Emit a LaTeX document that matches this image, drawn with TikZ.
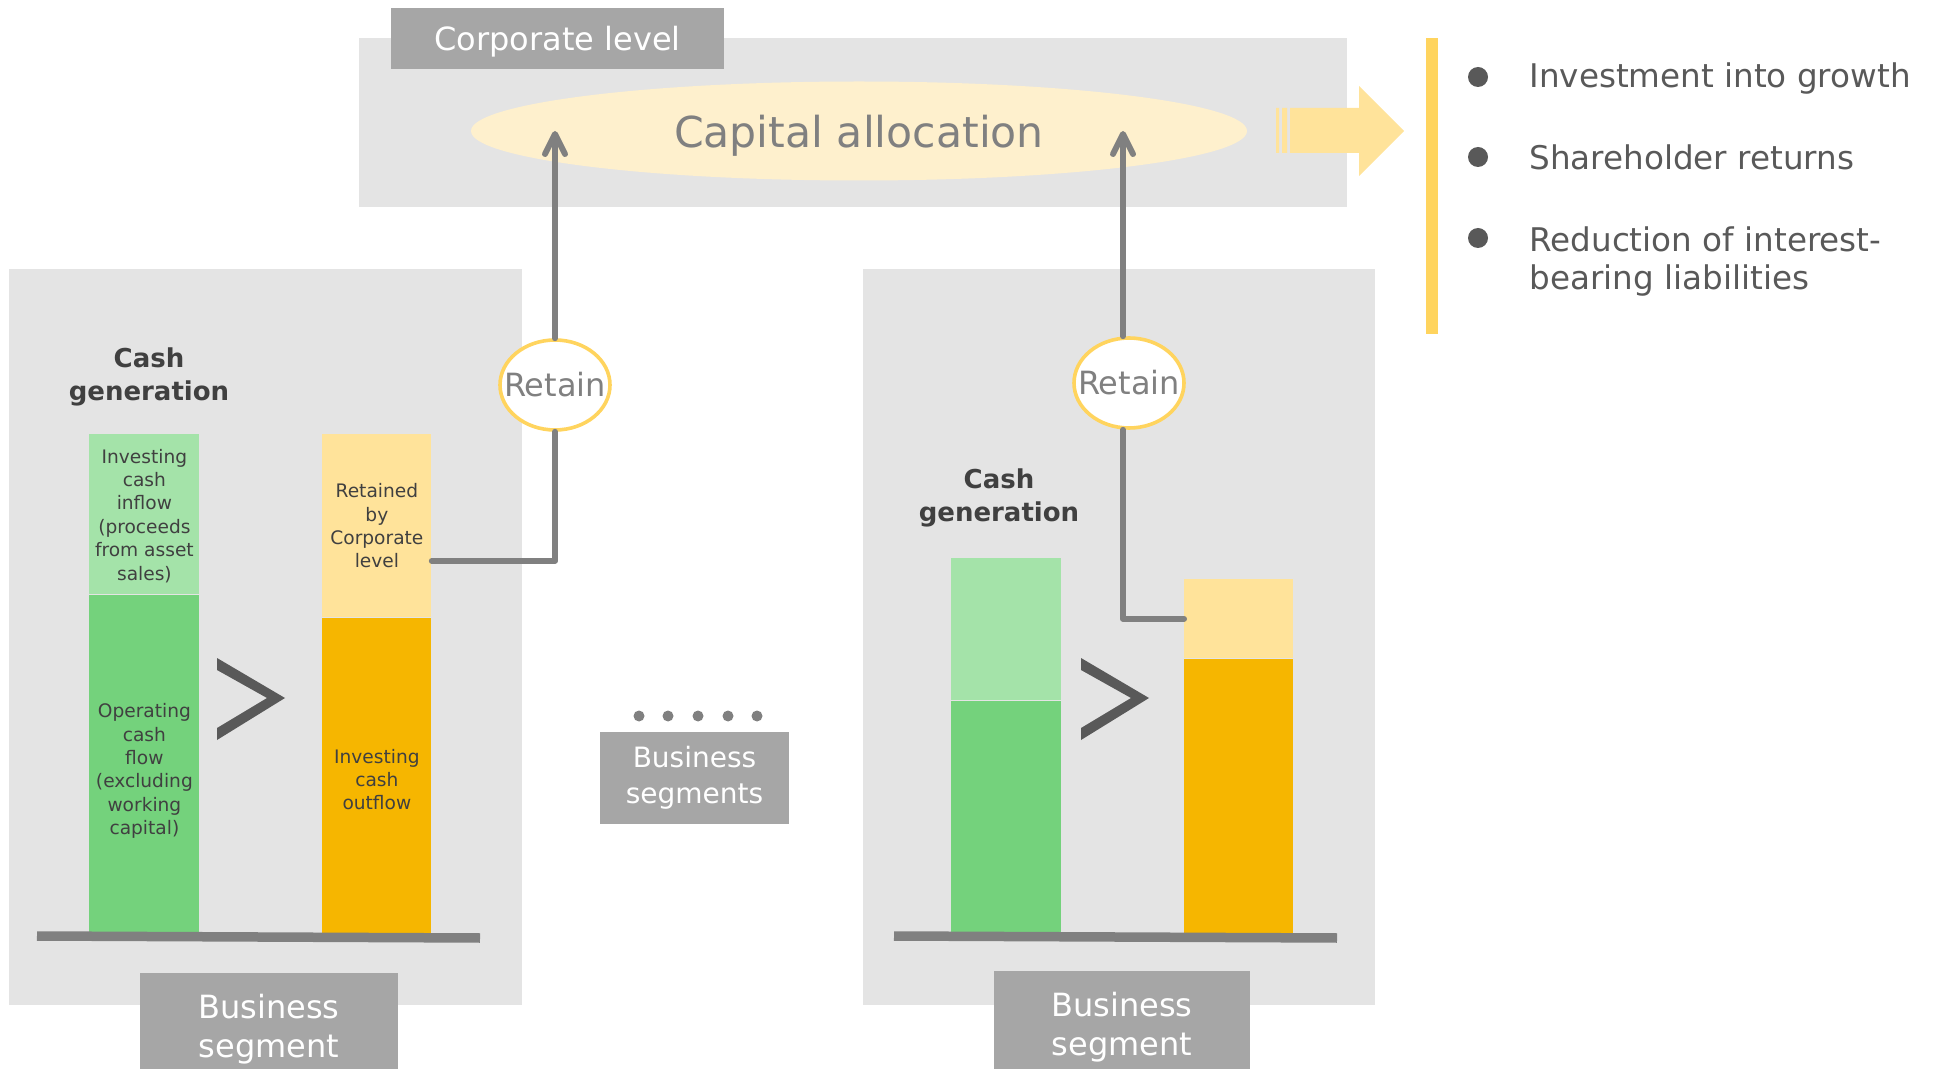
\documentclass[tikz,border=0pt]{standalone}
\usepackage{fontspec}
\setmainfont{DejaVu Sans}
\usetikzlibrary{shapes.geometric,arrows.meta,positioning}
\definecolor{panel}{HTML}{E4E4E4}
\definecolor{tagfill}{HTML}{A6A6A6}
\definecolor{lgreen}{HTML}{A4E3A9}
\definecolor{dgreen}{HTML}{74D27C}
\definecolor{lorange}{HTML}{FFE39A}
\definecolor{dorange}{HTML}{F6B600}
\definecolor{cream}{HTML}{FEF0CD}
\definecolor{goldline}{HTML}{FFD45E}
\definecolor{txtdark}{HTML}{404040}
\definecolor{midgray}{HTML}{595959}
\definecolor{linegray}{HTML}{808080}
\begin{document}
\begin{tikzpicture}[x=0.5pt, y=-0.5pt, line join=round, line cap=round,
  barbox/.style={inner sep=0pt, minimum width=55pt, text=txtdark, align=center, font=\fontsize{9.3}{11.7}\selectfont},
  tagbox/.style={fill=tagfill, text=white, inner sep=0pt, align=center},
  keepnode/.style={ellipse, draw=goldline, line width=1.8pt, fill=white, inner sep=0pt, minimum width=55pt, minimum height=45pt, text=linegray, font=\fontsize{16}{19}\selectfont},
  linkline/.style={draw=linegray, line width=3pt},
  genlabel/.style={font=\fontsize{13}{16.5}\selectfont\bfseries, text=txtdark, align=center},
  bullettext/.style={inner sep=0pt, text=midgray, font=\fontsize{16.3}{19}\selectfont}]
 \useasboundingbox (0,0) rectangle (1934,1069);
 \fill[panel] (359,38) rectangle (1347,207);
 \fill[panel] (9,269) rectangle (522,1005);
 \fill[panel] (863,269) rectangle (1375,1005);
 \node[tagbox, minimum width=166.5pt, minimum height=30.5pt, text depth=0pt, font=\fontsize{16}{19}\selectfont] (corp) at (557.5,38.5) {Corporate level};
 \node[ellipse, fill=cream, inner sep=0pt, minimum width=388pt, minimum height=49.5pt, text depth=0pt, text=linegray, font=\fontsize{21.3}{25}\selectfont] (alloc) at (859,131) {Capital allocation};
 \fill[lorange] (1290,108) -- (1359,108) -- (1359,86) -- (1404,131) -- (1359,176) -- (1359,153) -- (1290,153) -- cycle
 (1276,108) rectangle (1279,153) (1282,108) rectangle (1287,153);
 \fill[goldline] (1426,38) rectangle (1438,334);
 \foreach \y in {77,157,238}
 \fill[midgray] (1478,\y) circle (10);
 \node[bullettext, anchor=base west] (growth) at (1529,88) {Investment into growth};
 \node[bullettext, anchor=base west] (returns) at (1529,170) {Shareholder returns};
 \node[bullettext, anchor=west, align=left] (debt) at (1529,262) {Reduction of interest-\\bearing liabilities};
 \node[genlabel] (genL) at (149,377) {Cash\\generation};
 \node[genlabel] (genR) at (999,498) {Cash\\generation};
 \node[barbox, fill=lgreen, minimum height=80pt, anchor=north west] (invL) at (89,434) {\rule{0pt}{8.5pt}Investing\\cash\\inflow\\(proceeds\\from asset\\sales)};
 \node[barbox, fill=dgreen, minimum height=169pt, below=0pt of invL] (opL) {\rule{0pt}{14pt}Operating\\cash\\flow\\(excluding\\working\\capital)};
 \node[barbox, fill=lorange, minimum width=54.5pt, minimum height=91.5pt, anchor=north west] (retL) at (322,434) {Retained\\by\\Corporate\\level};
 \node[barbox, fill=dorange, minimum width=54.5pt, minimum height=157.5pt, below=0pt of retL] (outL) {\rule{0pt}{11pt}Investing\\cash\\outflow};
 \node[barbox, fill=lgreen, minimum height=71pt, anchor=north west] (invR) at (951,558) {};
 \node[barbox, fill=dgreen, minimum height=116pt, below=0pt of invR] (opR) {};
 \node[barbox, fill=lorange, minimum width=54.5pt, minimum height=39.5pt, anchor=north west] (retR) at (1184,579) {};
 \node[barbox, fill=dorange, minimum width=54.5pt, minimum height=137pt, below=0pt of retR] (outR) {};
 \draw[linegray, line width=4.75pt, line cap=butt] (37,936) -- (480,938) (894,936) -- (1337,938);
 \foreach \dx in {0,864}
 \fill[midgray, shift={(\dx,0)}] (217,658) -- (285,698) -- (217,740) -- (217,728) -- (267,698) -- (217,670) -- cycle;
 \node[keepnode] (keepL) at (555,385) {\makebox[0pt]{Retain}};
 \node[keepnode] (keepR) at (1129,383) {\makebox[0pt]{Retain}};
 \draw[linkline] ([yshift=-17.5pt]retL.east) -| (keepL);
 \draw[linkline] (retR.west) -| ([xshift=-3pt]keepR.south);
 \draw[linkline, -{Straight Barb[length=10pt,width=10pt,round]}] (keepL) -- (keepL |- alloc);
 \draw[linkline, -{Straight Barb[length=10pt,width=10pt,round]}] ([xshift=-3pt]keepR.north) -- ([xshift=-3pt]keepR.north |- alloc);
 \foreach \x in {639,668,698,728,757}
 \fill[linegray] (\x,716) circle (5.5);
 \node[tagbox, minimum width=94.5pt, minimum height=46pt, font=\fontsize{14}{18}\selectfont] (segs) at (694.5,778) {Business\\segments};
 \node[tagbox, minimum width=129pt, minimum height=56pt, font=\fontsize{16}{19.5}\selectfont] (segL) at (269,1029) {Business\\segment};
 \node[tagbox, minimum width=128pt, minimum height=56pt, font=\fontsize{16}{19.5}\selectfont] (segR) at (1122,1027) {Business\\segment};
\end{tikzpicture}
\end{document}
